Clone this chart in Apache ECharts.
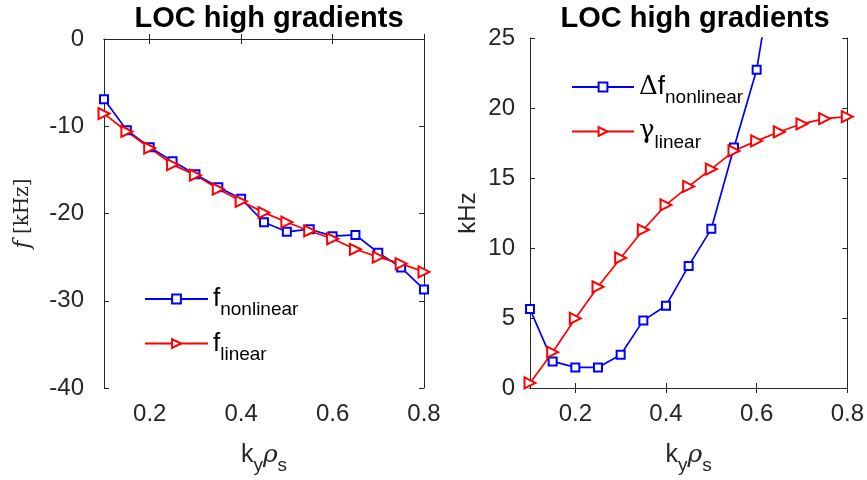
<!DOCTYPE html>
<html>
<head>
<meta charset="utf-8">
<script src="https://cdn.jsdelivr.net/npm/echarts@6/dist/echarts.min.js"></script>
<style>
  html, body { margin: 0; padding: 0; background: #fff; }
  #main { width: 867px; height: 480px; }
</style>
</head>
<body>
<div id="main"></div>
<script>
// ky*rho_s
var kyRho = [0.1, 0.15, 0.2, 0.25, 0.3, 0.35, 0.4, 0.45, 0.5, 0.55, 0.6, 0.65, 0.7, 0.75, 0.8];
// left panel: frequencies (kHz)
var fNonlinear = [-6.9, -10.45, -12.4, -14.0, -15.5, -17.0, -18.3, -21.0, -22.1, -21.8, -22.6, -22.45, -24.5, -26.2, -28.7];
var fLinear = [-8.55, -10.6, -12.5, -14.4, -15.6, -17.2, -18.6, -19.9, -21.0, -22.0, -22.9, -24.1, -25.0, -25.75, -26.7];
// right panel
var dfNonlinear = [5.64, 1.9, 1.47, 1.47, 2.37, 4.83, 5.88, 8.72, 11.37, 17.18, 22.74, 32.5];
var gammaLinear = [0.36, 2.56, 4.97, 7.23, 9.29, 11.3, 13.08, 14.4, 15.64, 16.94, 17.65, 18.3, 18.87, 19.24, 19.38];
var xTicks = [0.2, 0.4, 0.6, 0.8];

var FONT = "'Liberation Sans', Arial, sans-serif";
var AX = '#262626';

function pairs(xs, ys) {
    var out = [];
    for (var i = 0; i < ys.length; i++) {
        out.push([xs[i], ys[i]]);
    }
    return out;
}

var subRich = {
    m: { fontSize: 26, fontFamily: FONT, color: '#000' },
    s: { fontSize: 19, fontFamily: FONT, color: '#000', padding: [22, 0, 0, 0] },
    g: { fontSize: 26, fontFamily: "'DejaVu Serif', serif", color: '#000' }
};

function xAxisPair(gi, lblMargin) {
    return [{
        type: 'value', gridIndex: gi, min: 0.1, max: 0.8,
        axisLine: { show: true, lineStyle: { color: AX, width: 1 } },
        axisTick: { show: true, inside: true, length: 5, customValues: xTicks, lineStyle: { color: AX } },
        axisLabel: { show: true, customValues: xTicks, margin: lblMargin, fontSize: 24, fontFamily: FONT, color: AX,
            formatter: function (v) { return v.toFixed(1); } },
        splitLine: { show: false },
        name: '{n|k}{s|y}{r|ρ}{s|s}', nameLocation: 'middle', nameGap: 48,
        nameTextStyle: { rich: {
            n: { fontSize: 25, fontFamily: FONT, color: AX },
            r: { fontSize: 25, fontFamily: "'DejaVu Serif', serif", fontStyle: 'italic', color: AX },
            s: { fontSize: 19, fontFamily: FONT, color: AX, padding: [20, 0, 0, 0] }
        } }
    }, {
        type: 'value', gridIndex: gi, min: 0.1, max: 0.8, position: 'top',
        axisLine: { show: true, lineStyle: { color: AX, width: 1 } },
        axisTick: { show: true, inside: true, length: 5, customValues: xTicks, lineStyle: { color: AX } },
        axisLabel: { show: false },
        splitLine: { show: false }
    }];
}

function yAxisPair(gi, mn, mx, step, lblMargin, name, nameGap, nameStyle) {
    return [{
        type: 'value', gridIndex: gi, min: mn, max: mx, interval: step,
        axisLine: { show: true, lineStyle: { color: AX, width: 1 } },
        axisTick: { show: true, inside: true, length: 5, lineStyle: { color: AX } },
        axisLabel: { margin: lblMargin, fontSize: 24, fontFamily: FONT, color: AX },
        splitLine: { show: false },
        name: name, nameLocation: 'middle', nameGap: nameGap, nameRotate: 90,
        nameTextStyle: nameStyle
    }, {
        type: 'value', gridIndex: gi, min: mn, max: mx, interval: step, position: 'right',
        axisLine: { show: true, lineStyle: { color: AX, width: 1 } },
        axisTick: { show: true, inside: true, length: 5, lineStyle: { color: AX } },
        axisLabel: { show: false },
        splitLine: { show: false }
    }];
}

var lineOpts = function (name, color, symbol, rotate, size, xi, yi, data) {
    return {
        name: name, type: 'line', xAxisIndex: xi, yAxisIndex: yi,
        data: data,
        symbol: symbol, symbolSize: size, symbolRotate: rotate,
        showAllSymbol: true,
        lineStyle: { color: color, width: 1.7 },
        itemStyle: { color: color, borderColor: color, borderWidth: 1.7 },
        emphasis: { disabled: true },
        animation: false,
        clip: true
    };
};

var myChart = echarts.init(document.getElementById('main'), null, { renderer: 'canvas' });

var option = {
    backgroundColor: '#fff',
    animation: false,
    title: [
        { text: 'LOC high gradients', left: 264, top: -1, textAlign: 'center',
          textStyle: { fontSize: 29, fontWeight: 'bold', fontFamily: FONT, color: '#000' } },
        { text: 'LOC high gradients', left: 690, top: -1, textAlign: 'center',
          textStyle: { fontSize: 29, fontWeight: 'bold', fontFamily: FONT, color: '#000' } }
    ],
    grid: [
        { left: 104, top: 39, width: 320, height: 351, show: false },
        { left: 530, top: 38, width: 320, height: 352, show: false }
    ],
    xAxis: xAxisPair(0, 14).concat(xAxisPair(1, 14)),
    yAxis: yAxisPair(0, -40, 0, 10, 20, '{i|f} [kHz]', 70,
            { rich: { i: { fontSize: 22, fontFamily: "'DejaVu Serif', serif", fontStyle: 'italic', color: AX } },
              fontSize: 20, fontFamily: "'DejaVu Serif', serif", color: AX })
        .concat(yAxisPair(1, 0, 25, 5, 15, 'kHz', 50,
            { fontSize: 24, fontFamily: FONT, color: AX })),
    legend: [
        {
            data: ['fn', 'fl'], orient: 'vertical', left: 139, top: 281,
            itemWidth: 63, itemHeight: 11, itemGap: 11,
            formatter: function (n) { return n === 'fn' ? '{m|f}{s|nonlinear}' : '{m|f}{s|linear}'; },
            textStyle: { rich: subRich }
        },
        {
            data: ['dfn', 'gl'], orient: 'vertical', left: 566, top: 69,
            itemWidth: 62, itemHeight: 11, itemGap: 11,
            formatter: function (n) { return n === 'dfn' ? '{g|Δ}{m|f}{s|nonlinear}' : '{g|γ}{s|linear}'; },
            textStyle: { rich: subRich }
        }
    ],
    series: [
        lineOpts('fn', '#0000ff', 'emptyRect', 0, 8, 0, 0, pairs(kyRho, fNonlinear)),
        lineOpts('fl', '#ff0000', 'emptyTriangle', -90, 11, 0, 0, pairs(kyRho, fLinear)),
        lineOpts('dfn', '#0000ff', 'emptyRect', 0, 8, 2, 2, pairs(kyRho, dfNonlinear)),
        lineOpts('gl', '#ff0000', 'emptyTriangle', -90, 11, 2, 2, pairs(kyRho, gammaLinear))
    ]
};
myChart.setOption(option);
</script>
</body>
</html>
